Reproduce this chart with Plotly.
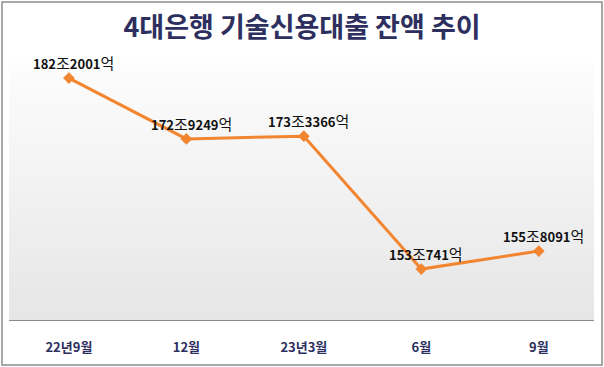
import plotly.graph_objects as go

# Data
categories = ["22년9월", "12월", "23년3월", "6월", "9월"]
values = [182.2001, 172.9249, 173.3366, 153.0741, 155.8091]
value_labels = [("182", "2001"), ("172", "9249"), ("173", "3366"), ("153", "741"), ("155", "8091")]
title_text = "4대은행 기술신용대출 잔액 추이"

W, H = 604, 367
ML, MR, MT, MB = 9, 10, 63, 47
PW = W - ML - MR
PH = H - MT - MB

texts = [f"<b>{a}</b><span style='font-size:15px'>조</span><b>{b}</b><span style='font-size:15px'>억</span>"
         for a, b in value_labels]

fig = go.Figure()
fig.add_trace(go.Scatter(
    x=categories, y=values,
    mode="lines+markers",
    line=dict(color="#f28530", width=3),
    marker=dict(symbol="diamond", size=9, color="#f28530"),
    cliponaxis=False, hoverinfo="skip", showlegend=False,
))

annotations = [dict(x=c, y=v, xref="x", yref="y", text=t, showarrow=False,
                    xanchor="center", yanchor="bottom", xshift=5, yshift=3,
                    font=dict(family="Noto Sans CJK KR", size=13, color="#111111"))
               for c, v, t in zip(categories, values, texts)]

# gradient background
shapes = []
N = 60
for i in range(N):
    t = i / N
    c = int(round(253 - (253 - 230) * (1 - t)))
    shapes.append(dict(type="rect", xref="paper", yref="paper",
                       x0=0, x1=1, y0=t, y1=t + 1.0 / N + 0.002,
                       fillcolor=f"rgb({c},{c},{c})", line=dict(width=0), layer="below"))
# outer frame
shapes.append(dict(type="rect", xref="paper", yref="paper",
                   x0=(2 - ML) / PW, x1=(602 - ML) / PW,
                   y0=-(365 - (H - MB)) / PH, y1=((H - MB) - 2) / PH,
                   line=dict(color="#8c8c8c", width=1.5), fillcolor="rgba(0,0,0,0)", layer="above"))

fig.update_layout(
    width=W, height=H,
    margin=dict(l=ML, r=MR, t=MT, b=MB),
    paper_bgcolor="white", plot_bgcolor="rgba(0,0,0,0)",
    title=dict(text=f"<b>{title_text}</b>", x=0.5, xref="container", xanchor="center",
               y=1 - 28 / H, yanchor="middle",
               font=dict(family="Noto Sans CJK KR", size=27, color="#2d2f5f")),
    xaxis=dict(type="category", range=[-0.51, 4.47], showgrid=False, zeroline=False,
               showline=True, linecolor="#8a8a8a", linewidth=1, ticks="",
               ticklabelstandoff=15,
               tickfont=dict(family="Noto Sans CJK KR", size=13, color="#2d2f5f", weight="bold")),
    yaxis=dict(range=[145.3, 184.5], visible=False, showgrid=False, zeroline=False),
    shapes=shapes,
    annotations=annotations,
)

fig.write_html("out.html", config={"displayModeBar": False},
               post_script="document.body.style.margin='0';")
